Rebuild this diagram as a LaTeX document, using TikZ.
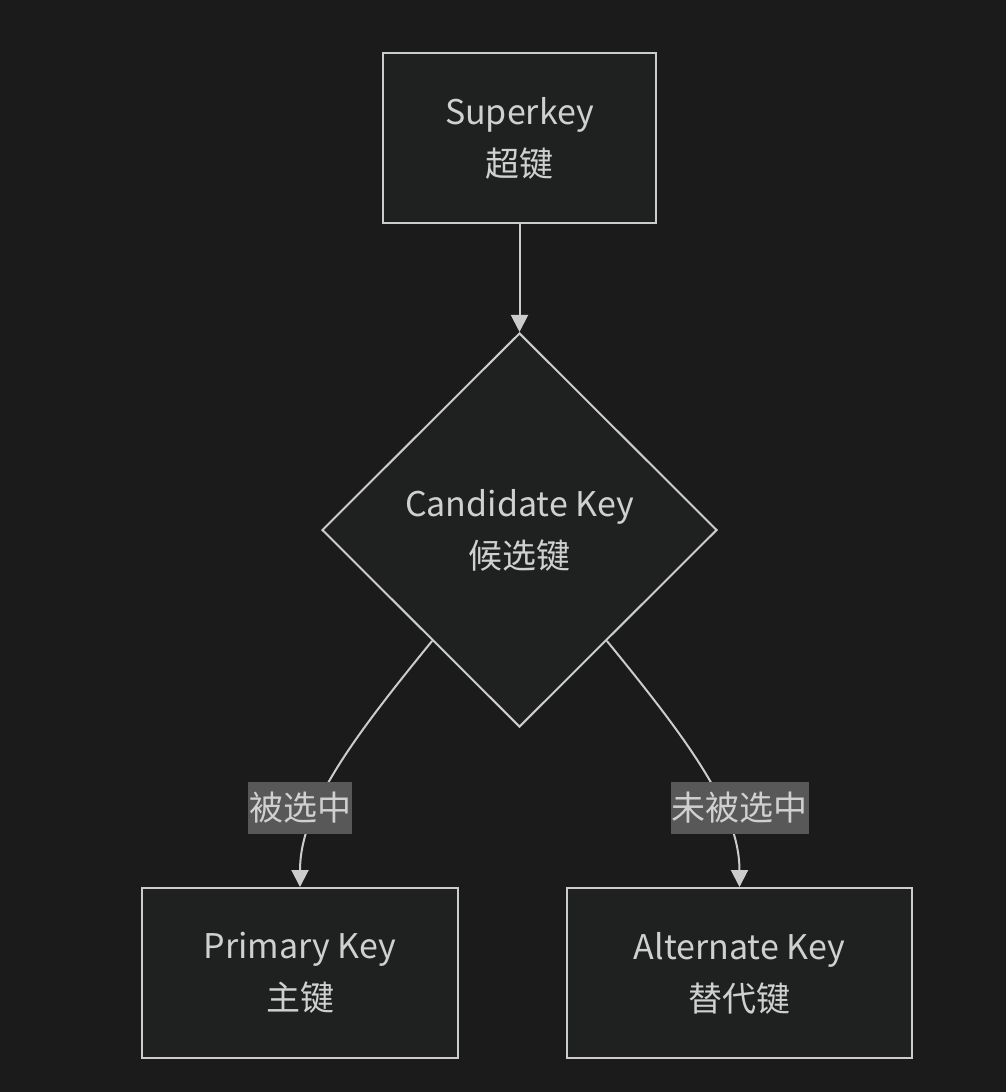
\documentclass[tikz,border=0pt]{standalone}
\usepackage{fontspec}
\setmainfont{Noto Sans CJK SC}
\usetikzlibrary{shapes.geometric,arrows.meta,calc}
\definecolor{bgc}{HTML}{1B1B1B}
\definecolor{nodefill}{HTML}{1F2020}
\definecolor{strokec}{HTML}{CCCCCC}
\definecolor{textc}{HTML}{D0D0D0}
\definecolor{lblfill}{HTML}{585858}
\begin{document}
\begin{tikzpicture}[x=1pt,y=-1pt,
  every node/.style={text=textc,font=\fontsize{34}{52}\selectfont,align=center},
  keybox/.style={draw=strokec,fill=nodefill,line width=2pt,inner sep=0pt},
  decision/.style={diamond,draw=strokec,fill=nodefill,line width=2pt,inner sep=0pt,minimum width=395pt,minimum height=394pt},
  edgelbl/.style={fill=lblfill,inner sep=1pt,minimum height=52pt,text=textc},
  conn/.style={draw=strokec,line width=2pt,-{Triangle[width=17pt,length=17pt]}}
]
\fill[bgc] (0,0) rectangle (1006,1092);
\useasboundingbox (0,0) rectangle (1006,1092);

\node[keybox,minimum width=273pt,minimum height=170pt] (sk) at (519.5,138) {Superkey\\超键};
\node[decision] (cand) at (519.5,530) {Candidate Key\\候选键};
\node[keybox,minimum width=316pt,minimum height=170pt] (pk) at (300,973) {Primary Key\\主键};
\node[keybox,minimum width=345pt,minimum height=170pt] (ak) at (739.5,973) {Alternate Key\\替代键};

\draw[conn] (sk) -- (cand);
\coordinate (l1) at ($(cand.south west)!0.12!(cand.south)$);
\coordinate (r1) at ($(cand.south east)!0.12!(cand.south)$);
\draw[conn] (l1) .. controls ($(l1)+(-80,98)$) and ($(pk.north)+(0,-78)$) .. (pk.north);
\draw[conn] (r1) .. controls ($(r1)+(80,98)$) and ($(ak.north)+(0,-78)$) .. (ak.north);

\node[edgelbl] (lp) at (300,808) {被选中};
\node[edgelbl] (la) at (739.5,808) {未被选中};
\end{tikzpicture}
\end{document}
